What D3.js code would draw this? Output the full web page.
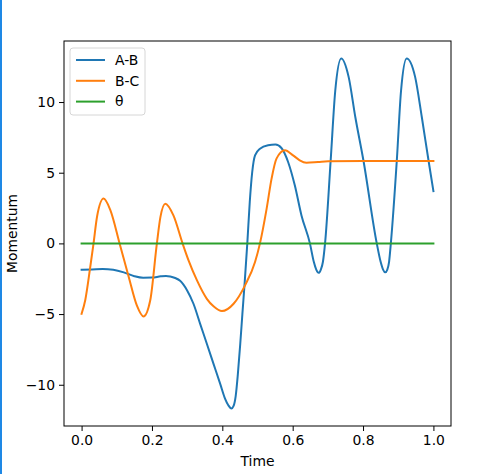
<!DOCTYPE html>
<html>
<head>
<meta charset="utf-8">
<script src="https://cdn.jsdelivr.net/npm/d3@7"></script>
<style>
  body { margin: 0; background: #fff; }
  svg { display: block; }
  text { font-family: "DejaVu Sans", sans-serif; fill: #000; }
</style>
</head>
<body>
<div id="chart"></div>
<script>
// values
var abTime = [0.000, 0.030, 0.060, 0.090, 0.120, 0.150, 0.175, 0.200, 0.225, 0.240, 0.252, 0.266, 0.280,
  0.300, 0.318, 0.337, 0.356, 0.375, 0.394, 0.408, 0.417, 0.426, 0.432, 0.438, 0.444, 0.451, 0.457,
  0.464, 0.471, 0.478, 0.485, 0.493, 0.507, 0.530, 0.551, 0.568, 0.587, 0.606, 0.625, 0.649, 0.660,
  0.667, 0.674, 0.680, 0.686, 0.692, 0.708, 0.721, 0.738, 0.759, 0.778, 0.801, 0.839, 0.850, 0.857,
  0.863, 0.869, 0.874, 0.879, 0.896, 0.908, 0.924, 0.948, 0.967, 0.986, 1.000];
var abValue = [-1.87, -1.85, -1.82, -1.87, -2.05, -2.32, -2.43, -2.42, -2.33, -2.30, -2.34, -2.45, -2.65,
  -3.33, -4.27, -5.69, -7.10, -8.52, -9.94, -11.00, -11.45, -11.68, -11.50, -10.80, -9.30, -7.10, -5.00,
  -2.62, 0.00, 2.93, 5.05, 6.23, 6.70, 6.94, 6.99, 6.75, 5.76, 4.11, 1.98, 0.00, -1.30,
  -1.85, -2.08, -1.85, -1.30, 0.00, 5.88, 10.80, 13.08, 11.78, 8.94, 5.88, 0.00, -1.30, -1.85,
  -2.05, -1.85, -1.30, 0.00, 5.88, 10.80, 13.08, 11.78, 8.94, 5.88, 3.70];

var bcTime = [0.000, 0.0105, 0.025, 0.034, 0.044, 0.0625, 0.082, 0.108, 0.134, 0.157, 0.176, 0.195, 0.214,
  0.224, 0.238, 0.261, 0.287, 0.304, 0.328, 0.356, 0.375, 0.399, 0.432, 0.465, 0.493, 0.507, 0.526,
  0.540, 0.554, 0.578, 0.601, 0.620, 0.639, 0.672, 0.701, 0.800, 1.000];
var bcValue = [-4.98, -4.00, -1.60, 0.00, 1.90, 3.17, 2.34, 0.00, -2.38, -4.39, -5.17, -4.04, 0.00,
  1.86, 2.81, 1.98, 0.00, -1.20, -2.62, -3.92, -4.45, -4.79, -4.27, -2.95, -1.32, 0.00, 2.46,
  4.58, 6.00, 6.59, 6.23, 5.88, 5.71, 5.76, 5.81, 5.83, 5.83];

var thetaTime = [0.0, 1.0];
var thetaValue = [0, 0];

var seriesNames = ["A-B", "B-C", "θ"];
var seriesColors = ["#1f77b4", "#ff7f0e", "#2ca02c"];
var xTicks = [0.0, 0.2, 0.4, 0.6, 0.8, 1.0];
var yTicks = [-10, -5, 0, 5, 10];

var W = 488, H = 474;
var margin = {top: 41, right: 37, bottom: 48, left: 64};
var width = W - margin.left - margin.right,
    height = H - margin.top - margin.bottom;

var svg = d3.select("#chart")
  .append("svg")
    .attr("width", W)
    .attr("height", H);

// thin blue strip on the left edge of the picture
svg.append("rect")
  .attr("x", 0).attr("y", 0)
  .attr("width", 2).attr("height", H)
  .attr("fill", "#1e88e5");

var g = svg.append("g")
  .attr("transform", "translate(" + margin.left + "," + margin.top + ")");

var series = [
  d3.zip(abTime, abValue),
  d3.zip(bcTime, bcValue),
  d3.zip(thetaTime, thetaValue)
];

// matplotlib style 5% padding
var allV = abValue.concat(bcValue, thetaValue);
var vmin = d3.min(allV), vmax = d3.max(allV);
var vpad = (vmax - vmin) * 0.05;

var x = d3.scaleLinear()
  .domain([-0.05, 1.05])
  .range([0, width]);
var y = d3.scaleLinear()
  .domain([vmin - vpad, vmax + vpad])
  .range([height, 0]);

var line = d3.line()
  .x(function (d) { return x(d[0]); })
  .y(function (d) { return y(d[1]); })
  .curve(d3.curveMonotoneX);

g.append("defs").append("clipPath").attr("id", "clip")
  .append("rect").attr("width", width).attr("height", height);

g.append("g")
  .attr("clip-path", "url(#clip)")
  .selectAll("path")
  .data(series)
  .enter()
  .append("path")
    .attr("d", line)
    .attr("fill", "none")
    .attr("stroke", function (d, i) { return seriesColors[i]; })
    .attr("stroke-width", 2)
    .attr("stroke-linejoin", "round")
    .attr("stroke-linecap", "square");

// axes
var xAxis = g.append("g")
  .attr("transform", "translate(0," + height + ")")
  .call(d3.axisBottom(x).tickValues(xTicks).tickFormat(d3.format(".1f")).tickSizeOuter(0).tickSize(5).tickPadding(4));
var yAxis = g.append("g")
  .call(d3.axisLeft(y).tickValues(yTicks).tickFormat(function (d) { return d < 0 ? "\u2212" + Math.abs(d) : d; })
    .tickSizeOuter(0).tickSize(5).tickPadding(4));

[xAxis, yAxis].forEach(function (a) {
  a.select(".domain").remove();
  a.selectAll("line").attr("stroke", "#000").attr("stroke-width", 1);
  a.selectAll("text").attr("font-size", 13.9).attr("font-family", "DejaVu Sans");
});

// frame
g.append("rect")
  .attr("width", width)
  .attr("height", height)
  .attr("fill", "none")
  .attr("stroke", "#000")
  .attr("stroke-width", 1);

// axis labels
g.append("text")
  .attr("text-anchor", "middle")
  .attr("x", width / 2)
  .attr("y", height + 40)
  .attr("font-size", 13.9)
  .text("Time");

g.append("text")
  .attr("text-anchor", "middle")
  .attr("transform", "rotate(-90)")
  .attr("x", -height / 2)
  .attr("y", -47)
  .attr("font-size", 13.9)
  .text("Momentum");

// legend
var legend = g.append("g").attr("transform", "translate(6,7)");
legend.append("rect")
  .attr("width", 75)
  .attr("height", 67)
  .attr("rx", 3)
  .attr("fill", "#fff")
  .attr("fill-opacity", 0.8)
  .attr("stroke", "#d6d6d6")
  .attr("stroke-width", 1);

var item = legend.selectAll(".item")
  .data(seriesNames)
  .enter()
  .append("g")
    .attr("transform", function (d, i) { return "translate(0," + (12 + i * 20.8) + ")"; });
item.append("line")
  .attr("x1", 6).attr("x2", 35)
  .attr("stroke", function (d, i) { return seriesColors[i]; })
  .attr("stroke-width", 2);
item.append("text")
  .attr("x", 45)
  .attr("dy", "0.35em")
  .attr("font-size", 13.9)
  .text(function (d) { return d; });
</script>
</body>
</html>
